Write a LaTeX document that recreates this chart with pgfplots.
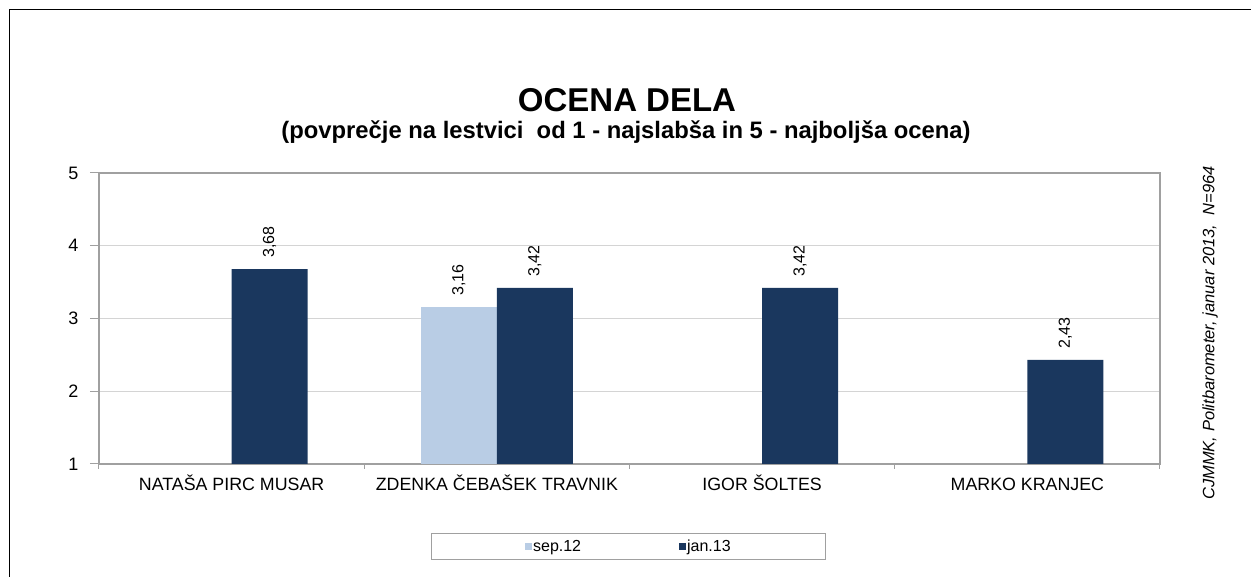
\documentclass[border=0pt]{standalone}
\usepackage{fontspec}
\setmainfont{Liberation Sans}
\usepackage{pgfplots}
\pgfplotsset{compat=1.18}
\definecolor{sepc}{RGB}{185,205,229}
\definecolor{janc}{RGB}{26,55,94}
\definecolor{axgray}{RGB}{160,160,160}
\definecolor{gridgray}{RGB}{212,212,212}
\begin{document}
\begin{tikzpicture}[x=1pt,y=1pt]
\useasboundingbox (0,0) rectangle (1251,577);
\draw[black, line width=1pt] (9.5,0) -- (9.5,567) -- (1251,567);
\begin{axis}[
  at={(99pt,113pt)}, anchor=south west,
  width=1061pt, height=291pt, scale only axis,
  ybar=0pt, bar width=76pt,
  xmin=-0.5, xmax=3.5, ymin=1, ymax=5,
  xtick={0,1,2,3},
  xticklabels={NATAŠA PIRC MUSAR, ZDENKA ČEBAŠEK TRAVNIK, IGOR ŠOLTES, MARKO KRANJEC},
  minor xtick={-0.5,0.5,1.5,2.5,3.5},
  ytick={1,2,3,4,5},
  xtick pos=bottom, ytick pos=left,
  major x tick style={draw=none},
  minor x tick style={axgray, line width=1pt},
  major y tick style={axgray, line width=1pt},
  tick align=outside,
  major tick length=9pt, minor tick length=5pt,
  ymajorgrids, major grid style={gridgray, line width=1pt},
  axis line style={axgray, line width=1.5pt},
  /pgf/number format/assume math mode=true,
  yticklabel style={font=\fontsize{18}{21}\selectfont, xshift=-8pt},
  xticklabel style={font=\fontsize{17.8}{21}\selectfont, text height=13pt, text depth=4pt, anchor=north, yshift=-1pt},
  nodes near coords={\pgfmathprintnumber[fixed,precision=2,fixed zerofill,use comma]{\pgfplotspointmeta}},
  every node near coord/.append style={rotate=90, anchor=west, inner xsep=11pt, font=\fontsize{16}{19}\selectfont, black},
  legend columns=2,
  legend image code/.code={\fill[#1] (0pt,-4pt) rectangle (7pt,3pt);},
  legend style={at={(0.499,-0.2835)}, anchor=center, draw=axgray, line width=1pt,
    font=\fontsize{16}{19}\selectfont, inner xsep=93pt, inner ysep=4pt,
    nodes={inner xsep=1.5pt},
    /tikz/every even column/.append style={column sep=96pt}},
]
\addplot[fill=sepc, draw=none] coordinates {(1,3.16)};
\addplot[fill=janc, draw=none] coordinates {(0,3.68) (1,3.42) (2,3.42) (3,2.43)};
\legend{sep.12, jan.13}
\end{axis}
\node[font=\bfseries\fontsize{33}{38}\selectfont] at (627,477) {OCENA DELA};
\node[font=\bfseries\fontsize{23.8}{28}\selectfont] at (626,445) {(povprečje na lestvici\ \ od 1 - najslabša in 5 - najboljša ocena)};
\node[rotate=90, font=\itshape\fontsize{16.5}{19}\selectfont] at (1210,244) {CJMMK, Politbarometer, januar 2013,\ \ N=964};
\end{tikzpicture}
\end{document}
